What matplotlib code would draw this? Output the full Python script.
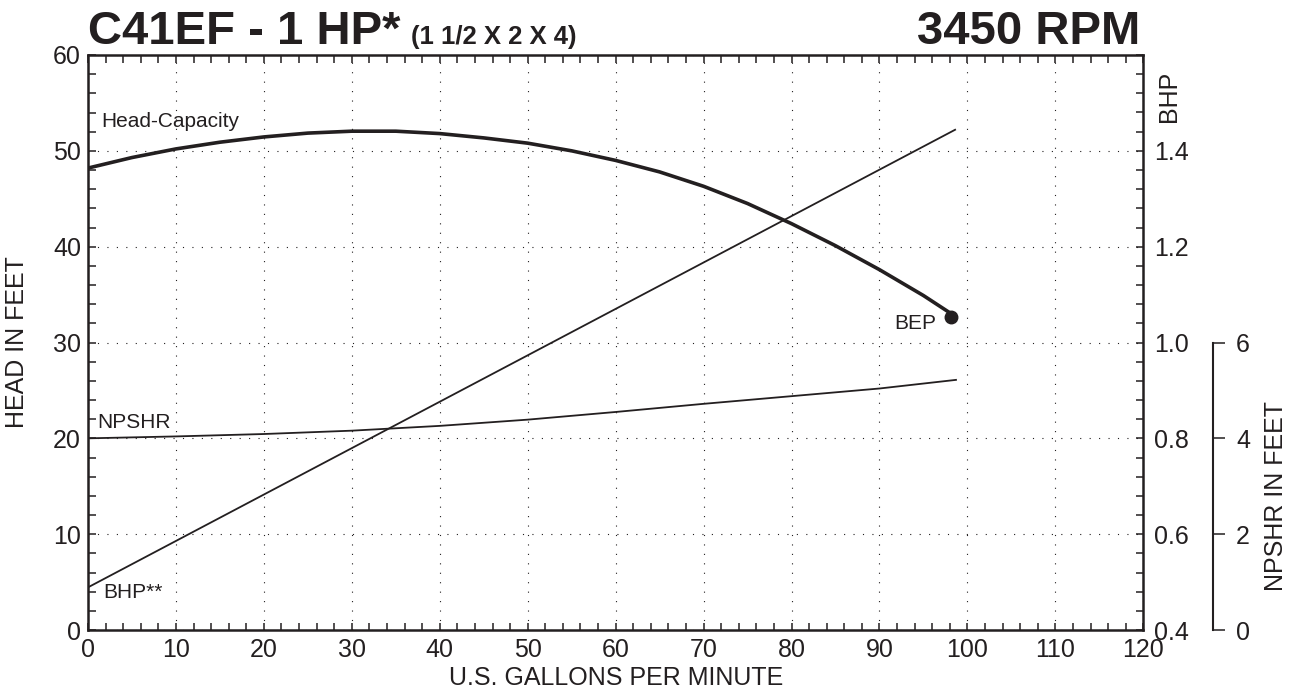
import matplotlib
matplotlib.use("Agg")
import matplotlib.pyplot as plt
from matplotlib.ticker import MultipleLocator, FixedLocator, FormatStrFormatter

plt.rcParams['font.family'] = ['Liberation Sans', 'DejaVu Sans']

INK = '#231f20'

# head-capacity curve (feet of head vs US gpm)
gpm_head = [0, 5, 10, 15, 20, 25, 30, 35, 40, 45, 50, 55, 60, 65, 70, 75, 80, 85, 90, 95, 98.5]
head_ft = [48.2, 49.3, 50.2, 50.9, 51.45, 51.85, 52.05, 52.05, 51.8, 51.35, 50.8, 50.0,
           49.0, 47.8, 46.3, 44.5, 42.4, 40.1, 37.6, 34.9, 32.8]

# brake horsepower
gpm_bhp = [0, 98.6]
bhp = [0.489, 1.444]

# NPSH required (feet)
gpm_npshr = [0, 10, 20, 30, 40, 50, 60, 70, 80, 90, 98.7]
npshr_ft = [4.0, 4.04, 4.09, 4.16, 4.26, 4.39, 4.55, 4.72, 4.88, 5.04, 5.22]

# best efficiency point
bep_gpm = 98.1
bep_head = 32.7

x_ticks = [0, 10, 20, 30, 40, 50, 60, 70, 80, 90, 100, 110, 120]
head_ticks = [0, 10, 20, 30, 40, 50, 60]
bhp_ticks = [0.4, 0.6, 0.8, 1.0, 1.2, 1.4]
npshr_ticks = [0, 2, 4, 6]

W, H = 1299, 692
fig = plt.figure(figsize=(W / 100, H / 100), dpi=100)
ax = fig.add_axes([88 / W, 62 / H, 1055.3 / W, 575 / H])

ax.set_xlim(0, 120)
ax.set_ylim(0, 60)
ax.xaxis.set_major_locator(FixedLocator(x_ticks))
ax.xaxis.set_minor_locator(MultipleLocator(2))
ax.yaxis.set_major_locator(FixedLocator(head_ticks))
ax.yaxis.set_minor_locator(MultipleLocator(2))
ax.tick_params(which='both', direction='in', length=5.4, width=1.1, color=INK,
               top=True, right=False, labelsize=18, labelcolor=INK)
ax.tick_params(axis='x', pad=6)
ax.tick_params(axis='y', pad=5)
for s in ax.spines.values():
    s.set_linewidth(1.8)
    s.set_color(INK)
ax.grid(True, which='major', color=INK, linewidth=0.8, linestyle=(0, (1, 7.5)))
ax.set_axisbelow(True)

# BHP axis on the right spine
ax2 = ax.twinx()
ax2.set_ylim(0.4, 1.6)
ax2.yaxis.set_major_locator(FixedLocator(bhp_ticks))
ax2.yaxis.set_minor_locator(MultipleLocator(0.04))
ax2.yaxis.set_major_formatter(FormatStrFormatter('%.1f'))
ax2.tick_params(which='both', direction='in', length=5.4, width=1.1, color=INK,
                labelsize=18, labelcolor=INK, pad=8)
for s in ax2.spines.values():
    s.set_visible(False)
ax2.plot(gpm_bhp, bhp, color=INK, linewidth=1.3)
ax2.text(1.024, 55.7 / 60, 'BHP', transform=ax2.transAxes, rotation=90,
         ha='center', va='center', fontsize=18, color=INK)

# NPSHR axis, offset to the right
ax3 = ax.twinx()
ax3.set_ylim(0, 12)
ax3.spines['right'].set_position(('axes', 1.0663))
ax3.spines['right'].set_bounds(0, 6)
ax3.spines['right'].set_linewidth(1.5)
ax3.spines['right'].set_color(INK)
for k in ['left', 'top', 'bottom']:
    ax3.spines[k].set_visible(False)
ax3.yaxis.set_major_locator(FixedLocator(npshr_ticks))
ax3.tick_params(direction='out', length=8.5, width=1.1, color=INK,
                labelsize=18, labelcolor=INK, pad=8)
ax3.plot(gpm_npshr, npshr_ft, color=INK, linewidth=1.3)
ax3.set_ylabel('NPSHR IN FEET', fontsize=18, color=INK)
ax3.yaxis.set_label_coords(1.114, 0.233)

# head-capacity curve on top
ax4 = ax.twinx()
ax4.set_ylim(0, 60)
ax4.axis('off')
ax4.plot(gpm_head, head_ft, color=INK, linewidth=2.6, solid_capstyle='round')
ax4.plot([bep_gpm], [bep_head], 'o', color=INK, markersize=9)

ax4.text(1.56, 53.1, 'Head-Capacity', fontsize=15, color=INK, va='center')
ax4.text(1.06, 21.6, 'NPSHR', fontsize=15, color=INK, va='center')
ax4.text(1.7, 3.9, 'BHP**', fontsize=15, color=INK, va='center')
ax4.text(91.7, 32.0, 'BEP', fontsize=15, color=INK, va='center')

ax.set_xlabel('U.S. GALLONS PER MINUTE', fontsize=18, color=INK)
ax.xaxis.set_label_coords(0.5, -0.062)
ax.set_ylabel('HEAD IN FEET', fontsize=18, color=INK)
ax.yaxis.set_label_coords(-0.056, 0.5)

# titles
ax.text(0.0, 1.0 + 11 / 575, 'C41EF - 1 HP*', transform=ax.transAxes,
        fontsize=34, fontweight='bold', color=INK, ha='left', va='baseline')
ax.text(0.306, 1.0 + 11 / 575, '(1 1/2 X 2 X 4)', transform=ax.transAxes,
        fontsize=18.5, fontweight='bold', color=INK, ha='left', va='baseline')
ax.text(0.997, 1.0 + 11 / 575, '3450 RPM', transform=ax.transAxes,
        fontsize=34, fontweight='bold', color=INK, ha='right', va='baseline')

fig.savefig('out.png', dpi=100)
